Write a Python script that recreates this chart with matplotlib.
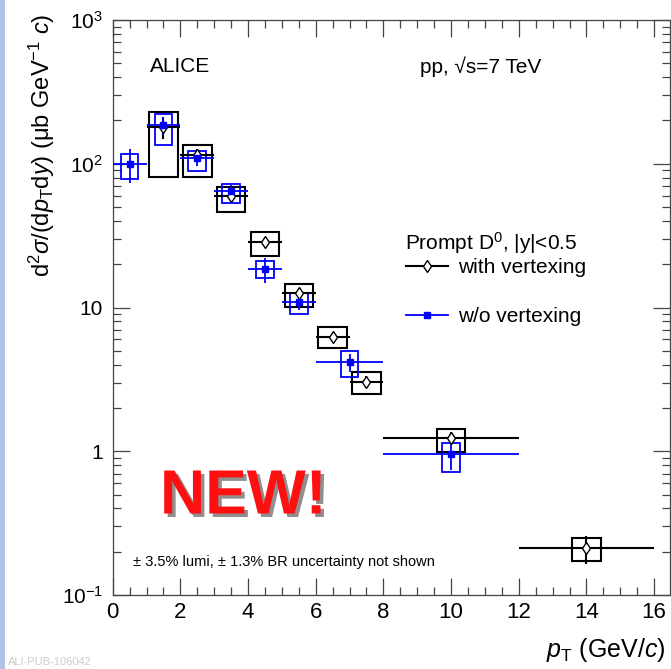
import numpy as np
import matplotlib
matplotlib.use("Agg")
import matplotlib.pyplot as plt
from matplotlib.patches import Rectangle
from matplotlib.lines import Line2D
from matplotlib.ticker import MultipleLocator, LogLocator, FixedLocator, FixedFormatter, NullFormatter
import matplotlib.patheffects as pe

plt.rcParams['font.family'] = ['Liberation Sans', 'DejaVu Sans']
plt.rcParams['mathtext.fontset'] = 'custom'
plt.rcParams['mathtext.rm'] = 'Liberation Sans'
plt.rcParams['mathtext.it'] = 'Liberation Sans:italic'
plt.rcParams['mathtext.bf'] = 'Liberation Sans:bold'

# with vertexing (black, open diamonds)
pt_v = [1.5, 2.5, 3.5, 4.5, 5.5, 6.5, 7.5, 10, 14]
bin_v = [1, 1, 1, 1, 1, 1, 1, 4, 4]
y_v = [180, 115, 60, 28.7, 12.7, 6.27, 3.05, 1.24, 0.211]
stat_v = [0.18, 0.10, 0.08, 0.08, 0.08, 0.08, 0.10, 0.10, 0.22]
syst_up_v = [228, 135, 68.6, 33.3, 14.5, 7.28, 3.57, 1.42, 0.25]
syst_dn_v = [81, 81, 46.5, 22.9, 10.1, 5.2, 2.49, 0.99, 0.172]

# without vertexing (blue, filled squares)
pt_nv = [0.5, 1.5, 2.5, 3.5, 4.5, 5.5, 7, 10]
bin_nv = [1, 1, 1, 1, 1, 1, 2, 4]
y_nv = [100, 185, 109, 65, 18.5, 10.9, 4.16, 0.95]
stat_nv = [0.27, 0.15, 0.12, 0.10, 0.20, 0.12, 0.15, 0.22]
syst_up_nv = [117, 222, 123, 72, 21.0, 12.7, 5.0, 1.15]
syst_dn_nv = [78, 134, 89, 53.6, 16.0, 9.0, 3.27, 0.72]

ytick_vals = [0.1, 1, 10, 100, 1000]
ytick_labels = [r"$10^{-1}$", "1", "10", r"$10^{2}$", r"$10^{3}$"]

fig = plt.figure(figsize=(6.71, 6.69), dpi=100)
ax = fig.add_axes([112.7 / 671, 1 - 595 / 669, (670 - 112.7) / 671, (595 - 20) / 669])
ax.set_yscale('log')
ax.set_xlim(0, 16.47)
ax.set_ylim(0.1, 1000)


def draw_set(pt, bw, y, stat, up, dn, color, marker, mfc, ms, boxw, lw):
    pt = np.array(pt)
    y = np.array(y)
    xe = np.array(bw) / 2
    ye = y * np.array(stat)
    for x0, lo, hi in zip(pt, dn, up):
        ax.add_patch(Rectangle((x0 - boxw / 2, lo), boxw, hi - lo, fill=False,
                               edgecolor=color, lw=lw, zorder=3))
    ax.errorbar(pt, y, xerr=xe, yerr=ye, fmt=marker, color=color, mfc=mfc, mec=color,
                ms=ms, mew=1, elinewidth=lw, capsize=0, zorder=4)


draw_set(pt_v, bin_v, y_v, stat_v, syst_up_v, syst_dn_v, 'black', 'd', 'white', 6.5, 0.84, 1.5)
draw_set(pt_nv, bin_nv, y_nv, stat_nv, syst_up_nv, syst_dn_nv, '#0000ff', 's', '#0000ff', 5, 0.52, 1.3)

# ticks, ROOT style
ax.xaxis.set_major_locator(MultipleLocator(2))
ax.xaxis.set_minor_locator(MultipleLocator(0.5))
ax.yaxis.set_major_locator(FixedLocator(ytick_vals))
ax.yaxis.set_major_formatter(FixedFormatter(ytick_labels))
ax.yaxis.set_minor_locator(LogLocator(base=10, subs=np.arange(2, 10)))
ax.yaxis.set_minor_formatter(NullFormatter())
ax.tick_params(which='both', direction='in', top=True, right=True, width=0.9, color='#444444')
ax.tick_params(which='major', length=12)
ax.tick_params(which='minor', length=6)
ax.tick_params(axis='x', labelsize=16, pad=5)
ax.tick_params(axis='y', labelsize=15, pad=7)
for s in ax.spines.values():
    s.set_linewidth(0.9)
    s.set_color('#444444')

handles = [Line2D([], [], color='black', marker='d', mfc='white', mec='black', ms=6.5, mew=1, lw=1.5),
           Line2D([], [], color='#0000ff', marker='s', mfc='#0000ff', mec='#0000ff', ms=5, lw=1.3)]
fig.legend(handles, ["with vertexing", "w/o vertexing"], loc='upper left',
           bbox_to_anchor=(406 / 671, 1 - 258 / 669), frameon=False, fontsize=15,
           handlelength=2.0, handletextpad=0.5, labelspacing=1.45, borderpad=0, borderaxespad=0)

fig.text(150 / 671, 1 - 67 / 669, "ALICE", fontsize=15, va='center')
fig.text(420 / 671, 1 - 67 / 669, "pp, \u221As=7 TeV", fontsize=15, va='center')
fig.text(405 / 671, 1 - 243 / 669, r"Prompt D$^{0}$, |y|<0.5", fontsize=15, va='center')
fig.text(133 / 671, 1 - 562 / 669, "\u00b1 3.5% lumi, \u00b1 1.3% BR uncertainty not shown",
         fontsize=10.5, va='center')

fig.text(160 / 671, 1 - 497 / 669, "NEW!", fontsize=45, fontweight='bold', color='#ff1010',
         va='center',
         path_effects=[pe.withSimplePatchShadow(offset=(2.5, -2.5), shadow_rgbFace='#444444', alpha=0.6)])

fig.text(0.062, 1 - 14 / 669, r"d$^{2}\sigma$/(d$p_{\rm T}$d$y$) (μb GeV$^{-1}$ $c$)",
         fontsize=17, rotation=90, ha='center', va='top')
fig.text(666 / 671, 1 - 650 / 669, r"$p_{\rm T}$ (GeV/$c$)", fontsize=18, ha='right', va='center')

fig.text(8 / 671, 1 - 662 / 669, "ALI-PUB-106042", fontsize=8, color='#cccccc', va='center')
fig.add_artist(Rectangle((0, 0), 5 / 671, 1, transform=fig.transFigure, color='#b0c2e6', lw=0))

fig.savefig("out.png", dpi=100)
